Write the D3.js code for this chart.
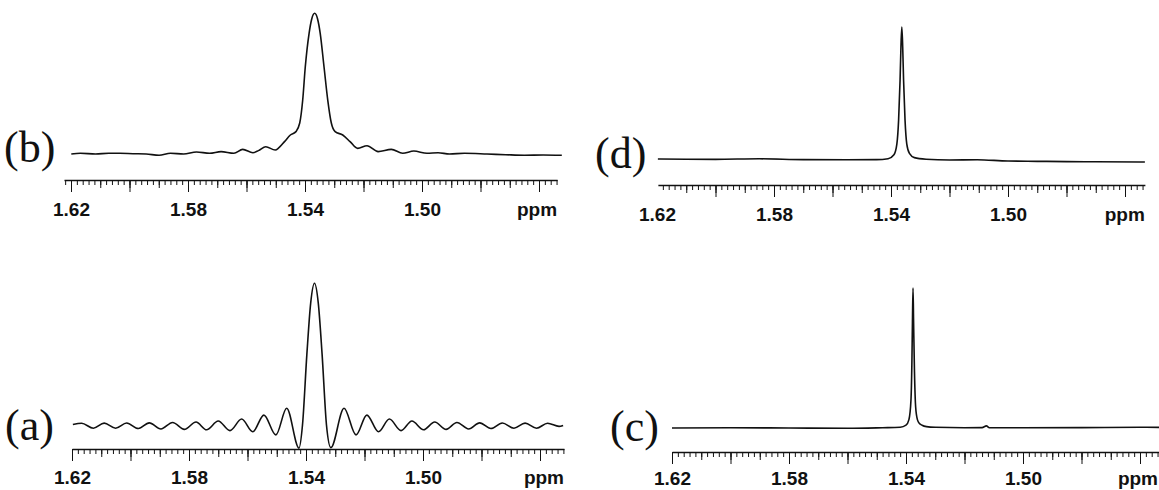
<!DOCTYPE html>
<html><head><meta charset="utf-8">
<script src="https://cdn.jsdelivr.net/npm/d3@7"></script>
<style>body{margin:0;background:#fff}svg{display:block}</style>
</head><body>
<svg id="c" width="1159" height="490"></svg>
<script>
// ---- data: [ppm, relative intensity] ----
const specA = [
 [1.6197,0.3],[1.6167,1.2],[1.6127,-2.3],[1.6090,1.3],[1.6051,-2.3],[1.6013,1.4],[1.5973,-2.5],
 [1.5936,1.5],[1.5896,-2.8],[1.5856,1.8],[1.5816,-3.1],[1.5776,2.1],[1.5740,-3.4],[1.5700,2.8],
 [1.5660,-4.0],[1.5620,4.2],[1.5582,-4.8],[1.5544,7.0],[1.5503,-7.0],[1.5466,11.8],[1.5424,-16.3],
 [1.5412,0],[1.5397,50],[1.5384,86],[1.5371,100],[1.5358,86],[1.5345,50],[1.5330,0],[1.5315,-16.0],
 [1.5270,11.8],[1.5229,-7.0],[1.5192,7.0],[1.5152,-4.8],[1.5115,4.2],[1.5075,-4.0],[1.5038,2.8],
 [1.4998,-3.4],[1.4960,2.1],[1.4921,-3.1],[1.4884,1.8],[1.4844,-2.8],[1.4806,1.5],[1.4768,-2.5],
 [1.4729,1.4],[1.4689,-2.3],[1.4651,1.3],[1.4612,-2.3],[1.4574,1.2],[1.4535,-1.0],[1.4521,-0.3]
];
const specB = [
 [1.6199,0],[1.6168,0.5],[1.6116,0],[1.6071,0.5],[1.6033,0.5],[1.5988,0.2],[1.5943,0],[1.5899,-0.9],
 [1.5860,0.5],[1.5815,0],[1.5771,1.4],[1.5726,0.5],[1.5687,1.7],[1.5643,0.5],[1.5613,3.3],[1.5578,0.9],
 [1.5559,2.4],[1.5534,5.2],[1.5502,2.8],[1.5489,4.5],[1.5470,8.8],[1.5450,13.5],[1.5431,15.9],
 [1.5418,22],[1.5408,38],[1.5399,62],[1.5386,85.8],[1.5377,96],[1.5367,100],[1.5357,96],[1.5348,85.8],
 [1.5335,62],[1.5322,38],[1.5310,22],[1.5297,15.9],[1.5271,13.5],[1.5246,8.8],[1.5220,4.0],[1.5188,5.9],
 [1.5150,1.7],[1.5105,3.3],[1.5066,0.5],[1.5028,2.1],[1.4983,0.5],[1.4945,0.9],[1.4906,0],[1.4855,0.5],
 [1.4778,0],[1.4714,-0.5],[1.4650,-0.9],[1.4586,-0.7],[1.4522,-0.9]
];
const specD = [
 [1.6197,0.8],[1.6100,0.6],[1.6000,0.5],[1.5850,0.9],[1.5700,0.3],[1.5550,0.2],[1.5450,0.3],[1.5410,1.0],
 [1.5390,4],[1.5380,12],[1.5374,30],[1.5369,60],[1.5366,85],[1.5363,100],[1.5360,85],[1.5357,60],
 [1.5352,30],[1.5346,12],[1.5337,5],[1.5320,1.8],[1.5280,0.6],[1.5200,0],[1.5105,0.2],[1.5000,-0.8],
 [1.4900,-1.0],[1.4800,-1.2],[1.4700,-1.3],[1.4532,-1.5]
];
const specC = [
 [1.6200,0],[1.6000,0.2],[1.5800,0],[1.5600,-0.2],[1.5480,0.2],[1.5420,0.5],[1.5400,2],[1.5390,6],
 [1.5383,20],[1.5380,45],[1.5378,75],[1.5376,100],[1.5374,75],[1.5371,40],[1.5367,15],[1.5361,6],
 [1.5355,3.5],[1.5345,2],[1.5330,1],[1.5300,0.5],[1.5200,0.2],[1.5140,0.3],[1.5125,1.5],[1.5115,0.2],
 [1.5000,0.2],[1.4800,0.3],[1.4600,0.5],[1.4456,0.4]
];
const tickLabelValues = [1.62, 1.58, 1.54, 1.50];
const unitLabel = "ppm";
const panelLabels = ["(a)", "(b)", "(c)", "(d)"];

// ---- layout ----
const K = 2925; // px per ppm
const panels = [
 {name:panelLabels[1], data:specB, x154:305, start:1.6224, end:1.4538, axisY:180, baseY:154, topY:13.3, lx:4,   ly:162, gap:36, unitX:null},
 {name:panelLabels[0], data:specA, x154:306, start:1.6200, end:1.4518, axisY:449, baseY:425, topY:283.3, lx:5, ly:440, gap:35, unitX:null},
 {name:panelLabels[3], data:specD, x154:891, start:1.6197, end:1.4532, axisY:185, baseY:160, topY:27,  lx:595, ly:168, gap:36, unitX:null},
 {name:panelLabels[2], data:specC, x154:906, start:1.6200, end:1.4456, axisY:452, baseY:428, topY:288, lx:610, ly:441, gap:33, unitX:1158}
];

const svg = d3.select("#c");
const labelFont = "'Liberation Sans', Arial, Helvetica, sans-serif";
const FS = 19;

panels.forEach(p => {
  const x = d3.scaleLinear().domain([p.start, p.end])
    .range([p.x154 + (1.54 - p.start) * K, p.x154 + (1.54 - p.end) * K]);
  const y = d3.scaleLinear().domain([0, 100]).range([p.baseY, p.topY]);
  const g = svg.append("g");

  // spectrum
  const line = d3.line().x(d => x(d[0])).y(d => y(d[1])).curve(d3.curveMonotoneX);
  g.append("path").datum(p.data).attr("d", line)
    .attr("fill", "none").attr("stroke", "#111").attr("stroke-width", 1.6)
    .attr("stroke-linejoin", "round");

  // ticks
  const idx = d3.range(Math.ceil(p.end * 500 - 1e-6), Math.floor(p.start * 500 + 1e-6) + 1);
  const minor = idx.map(i => i / 500);
  const medium = idx.filter(i => i % 5 === 0).map(i => i / 500);
  const major = idx.filter(i => i % 10 === 0).map(i => i / 500);

  const ax = (vals, size, keepDomain) => {
    const a = g.append("g").attr("transform", `translate(0,${p.axisY})`)
      .call(d3.axisBottom(x).tickValues(vals).tickSize(size).tickSizeOuter(0).tickFormat(""));
    if (!keepDomain) a.select(".domain").remove();
    else a.select(".domain").attr("stroke-width", 1.5).attr("stroke", "#111");
    a.selectAll(".tick line").attr("stroke", "#111").attr("stroke-width", 1);
    return a;
  };
  ax(minor, 5, true);
  ax(medium, 8, false);
  ax(major, 12, false);

  const pad = p.gap - 0.71 * FS;
  const la = g.append("g").attr("transform", `translate(0,${p.axisY})`)
    .call(d3.axisBottom(x).tickValues(tickLabelValues).tickSize(0).tickPadding(pad).tickFormat(d3.format(".2f")));
  la.select(".domain").remove();
  la.selectAll("text").attr("font-family", labelFont).attr("font-weight", "bold")
    .attr("font-size", FS).attr("fill", "#111");

  g.append("text").attr("x", p.unitX !== null ? p.unitX : x(p.end)).attr("y", p.axisY + p.gap)
    .attr("text-anchor", "end").attr("font-family", labelFont).attr("font-weight", "bold")
    .attr("font-size", FS).attr("fill", "#111").text(unitLabel);

  g.append("text").attr("x", p.lx).attr("y", p.ly)
    .attr("font-family", "'Liberation Serif', 'Times New Roman', serif")
    .attr("font-size", 44).attr("fill", "#111").text(p.name);
});
</script>
</body></html>
